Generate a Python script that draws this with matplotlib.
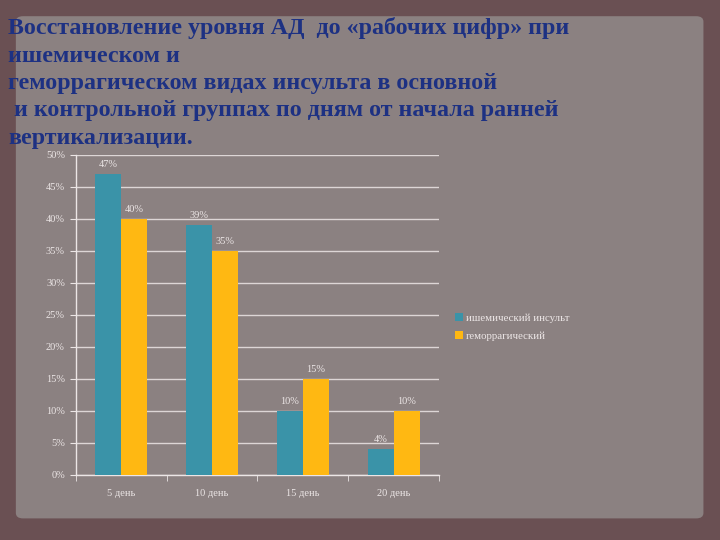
import matplotlib.pyplot as plt
import matplotlib.patches as mpatches
import numpy as np

# data
kategori = ["5 день", "10 день", "15 день", "20 день"]
ishem = [47, 39, 10, 4]
gemor = [40, 35, 15, 10]
label_ishem = "ишемический инсульт"
label_gemor = "геморрагический"
judul = ("Восстановление уровня АД  до «рабочих цифр» при\n"
         "ишемическом и\n"
         "геморрагическом видах инсульта в основной\n"
         " и контрольной группах по дням от начала ранней\n"
         "вертикализации.")

warna_ishem = "#3a93a8"
warna_gemor = "#ffb812"
warna_teks = "#ece6e6"
serif = ["Liberation Serif", "DejaVu Serif"]

fig = plt.figure(figsize=(7.2, 5.4), dpi=100)
fig.patch.set_facecolor("#6a5053")

# latar "kertas"
kertas = mpatches.FancyBboxPatch((0.022, 0.04), 0.955, 0.93,
                                 boxstyle="round,pad=0.0,rounding_size=0.01",
                                 transform=fig.transFigure, facecolor="#8b8181",
                                 edgecolor="none", zorder=-5)
fig.patches.append(kertas)

fig.text(0.011, 0.968, judul, ha="left", va="top", color="#1d3183",
         fontsize=17.3, fontweight="bold", family=serif, linespacing=1.4)

ax = fig.add_axes([0.1056, 0.1204, 0.504, 0.5926])
ax.set_facecolor("none")

x = np.arange(len(kategori))
w = 0.287
b1 = ax.bar(x - w / 2, ishem, w, color=warna_ishem, label=label_ishem, zorder=3)
b2 = ax.bar(x + w / 2, gemor, w, color=warna_gemor, label=label_gemor, zorder=3)

for bars, vals in [(b1, ishem), (b2, gemor)]:
    for r, v in zip(bars, vals):
        ax.text(r.get_x() + r.get_width() / 2, v + 0.8, f"{v}%", ha="center",
                va="bottom", fontsize=7.5, color=warna_teks, family=serif)

ax.set_xlim(-0.5, 3.5)
ax.set_ylim(0, 50)
ax.set_yticks(np.arange(0, 51, 5))
ax.set_yticklabels([f"{v}%" for v in range(0, 51, 5)])
ax.set_xticks(x)
ax.set_xticklabels(kategori)
ax.set_xticks(np.arange(-0.5, 3.6, 1), minor=True)
ax.tick_params(axis="x", which="major", length=0, pad=10)
ax.tick_params(axis="x", which="minor", length=4, color=warna_teks, direction="out")
ax.tick_params(axis="y", length=4, color=warna_teks, pad=4)
for t in ax.get_xticklabels() + ax.get_yticklabels():
    t.set_color(warna_teks)
    t.set_fontsize(7.5)
    t.set_family(serif)

ax.grid(axis="y", color="#ddd6d6", linewidth=1, zorder=1)
for s in ["top", "right"]:
    ax.spines[s].set_visible(False)
for s in ["left", "bottom"]:
    ax.spines[s].set_color(warna_teks)
    ax.spines[s].set_linewidth(1)

fig.legend(handles=[b1, b2], loc="upper left", bbox_to_anchor=(0.619, 0.438),
           frameon=False, prop={"family": serif, "size": 7.8},
           handlelength=0.7, handleheight=0.7, handletextpad=0.3,
           labelspacing=0.75, labelcolor=warna_teks)

fig.savefig("out.png", dpi=100, facecolor=fig.get_facecolor())
